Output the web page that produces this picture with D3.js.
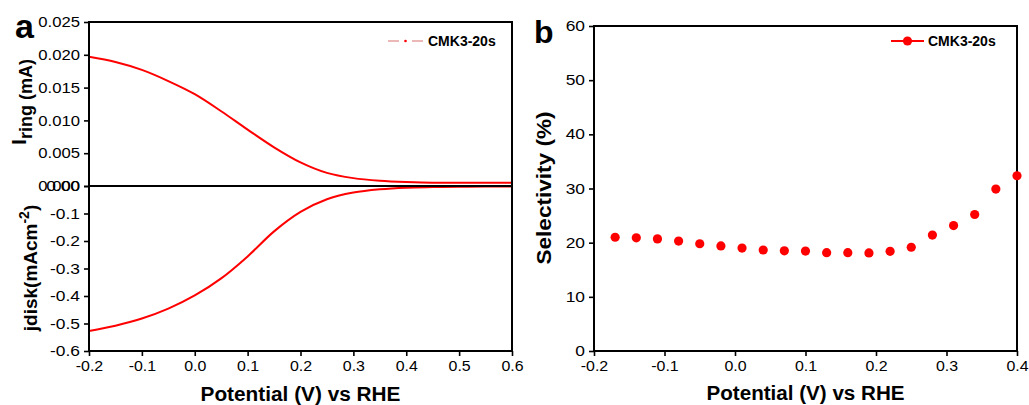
<!DOCTYPE html>
<html>
<head>
<meta charset="utf-8">
<script src="https://cdn.jsdelivr.net/npm/d3@7"></script>
<style>
  body { margin: 0; background: #fff; }
  svg { display: block; font-family: "Liberation Sans", Arial, sans-serif; }
</style>
</head>
<body>
<script>
"use strict";

// data

// panel a: ring / disk currents vs potential
const potA = [-0.2, -0.15, -0.1, -0.05, 0.0, 0.05, 0.1, 0.15, 0.2, 0.25, 0.3, 0.35, 0.4, 0.45, 0.5, 0.55, 0.6];
const ringCurrent = [0.0197, 0.0189, 0.0177, 0.0160, 0.0140, 0.0114, 0.0086, 0.0059, 0.0036, 0.0020, 0.0012, 0.0008, 0.0006, 0.0005, 0.0005, 0.0005, 0.0005];
const diskCurrent = [-0.527, -0.508, -0.482, -0.446, -0.398, -0.336, -0.256, -0.165, -0.094, -0.048, -0.024, -0.012, -0.006, -0.004, -0.003, -0.002, -0.002];

// panel b: selectivity
const potB = [-0.17, -0.14, -0.11, -0.08, -0.05, -0.02, 0.01, 0.04, 0.07, 0.10, 0.13, 0.16, 0.19, 0.22, 0.25, 0.28, 0.31, 0.34, 0.37, 0.40];
const selectivity = [21.0, 20.9, 20.7, 20.3, 19.8, 19.4, 19.0, 18.65, 18.5, 18.45, 18.15, 18.15, 18.1, 18.4, 19.15, 21.4, 23.15, 25.2, 29.9, 32.35];

// ticks
const xTicksA = [-0.2, -0.1, 0.0, 0.1, 0.2, 0.3, 0.4, 0.5, 0.6];
const ringTicks = [0.000, 0.005, 0.010, 0.015, 0.020, 0.025];
const diskTicks = [-0.6, -0.5, -0.4, -0.3, -0.2, -0.1, 0.0];
const xTicksB = [-0.2, -0.1, 0.0, 0.1, 0.2, 0.3, 0.4];
const selTicks = [0, 10, 20, 30, 40, 50, 60];

const seriesName = 'CMK3-20s';
const red = '#ff0000';

const W = 1029, H = 405;

// plain hyphen minus, like the original figure
const fmt = (spec) => {
    const f = d3.format(spec);
    return (d) => f(d).replace('\u2212', '-');
};

const svg = d3.select('body')
    .append('svg')
    .attr('width', W)
    .attr('height', H);

// tick labels in the figure run wide: scale them horizontally
const styleAxis = (g, k, side) => {
    g.select('.domain').remove();
    g.attr('font-size', 14.5).attr('font-family', '"Liberation Sans", Arial, sans-serif');
    g.selectAll('.tick line').attr('stroke', '#000').attr('stroke-width', 1.6);
    g.selectAll('.tick text')
        .attr('fill', '#000')
        .attr('transform', 'scale(' + k + ',1)')
        .attr('x', side === 'left' ? -9 / k : 0);
};

// ---------- panel a ----------
const xa = d3.scaleLinear().domain([-0.2, 0.6]).range([89, 512]);
const ya1 = d3.scaleLinear().domain([0, 0.025]).range([186, 22]);
const ya2 = d3.scaleLinear().domain([-0.6, 0]).range([351, 186]);

const ga = svg.append('g');

ga.append('g')
    .attr('transform', 'translate(0,' + ya2(-0.6) + ')')
    .call(d3.axisBottom(xa).tickValues(xTicksA).tickSize(5).tickPadding(5)
          .tickFormat(fmt('.1f')))
    .call(g => styleAxis(g, 1.1, 'bottom'));

ga.append('g')
    .attr('transform', 'translate(' + xa(-0.2) + ',0)')
    .call(d3.axisLeft(ya1).tickValues(ringTicks).tickSize(5).tickPadding(4)
          .tickFormat(fmt('.3f')))
    .call(g => styleAxis(g, 1.15, 'left'));

ga.append('g')
    .attr('transform', 'translate(' + xa(-0.2) + ',0)')
    .call(d3.axisLeft(ya2).tickValues(diskTicks).tickSize(5).tickPadding(4)
          .tickFormat(d => d === 0 ? '0.00' : fmt('.1f')(d)))
    .call(g => styleAxis(g, 1.2, 'left'));

const lineRing = d3.line()
    .x((d, i) => xa(potA[i]))
    .y(d => ya1(d))
    .curve(d3.curveMonotoneX);
const lineDisk = d3.line()
    .x((d, i) => xa(potA[i]))
    .y(d => ya2(d))
    .curve(d3.curveMonotoneX);

ga.append('path').datum(ringCurrent)
    .attr('d', lineRing)
    .attr('fill', 'none').attr('stroke', red).attr('stroke-width', 2);
ga.append('path').datum(diskCurrent)
    .attr('d', lineDisk)
    .attr('fill', 'none').attr('stroke', red).attr('stroke-width', 2);

// zero line and frame
ga.append('line')
    .attr('x1', xa(-0.2)).attr('x2', xa(0.6))
    .attr('y1', ya1(0)).attr('y2', ya1(0))
    .attr('stroke', '#000').attr('stroke-width', 2);
ga.append('rect')
    .attr('x', xa(-0.2)).attr('y', ya1(0.025))
    .attr('width', xa(0.6) - xa(-0.2))
    .attr('height', ya2(-0.6) - ya1(0.025))
    .attr('fill', 'none').attr('stroke', '#000').attr('stroke-width', 2);

// legend a
ga.append('line')
    .attr('x1', 388).attr('x2', 423).attr('y1', 41).attr('y2', 41)
    .attr('stroke', '#e6a0a0').attr('stroke-width', 1.5)
    .attr('stroke-dasharray', '11,13,11');
ga.append('circle')
    .attr('cx', 405.5).attr('cy', 41).attr('r', 1.3).attr('fill', red);
ga.append('text')
    .attr('x', 428).attr('y', 46)
    .style('font-size', '14px').style('font-weight', 'bold')
    .text(seriesName);

// titles a
ga.append('text')
    .attr('x', xa(0.2)).attr('y', 401)
    .attr('text-anchor', 'middle')
    .style('font-size', '19.5px').style('font-weight', 'bold')
    .attr('textLength', 200).attr('lengthAdjust', 'spacingAndGlyphs')
    .text('Potential (V) vs RHE');

const t1 = ga.append('text')
    .attr('transform', 'translate(26,102) rotate(-90)')
    .attr('text-anchor', 'middle')
    .style('font-weight', 'bold');
t1.append('tspan').style('font-size', '21px').text('I');
t1.append('tspan').style('font-size', '18px').attr('dy', 6).text('ring (mA)');

const t2 = ga.append('text')
    .attr('transform', 'translate(37,268) rotate(-90)')
    .attr('text-anchor', 'middle')
    .style('font-weight', 'bold')
    .style('font-size', '19px');
t2.append('tspan').text('jdisk(mAcm');
t2.append('tspan').attr('dy', -8).style('font-size', '14px').text('-2');
t2.append('tspan').attr('dy', 8).text(')');

ga.append('text')
    .attr('x', 15).attr('y', 38)
    .style('font-size', '34px').style('font-weight', 'bold')
    .text('a');

// ---------- panel b ----------
const xb = d3.scaleLinear().domain([-0.2, 0.4]).range([594, 1017]);
const yb = d3.scaleLinear().domain([0, 60]).range([351, 26]);

const gb = svg.append('g');

gb.append('g')
    .attr('transform', 'translate(0,' + yb(0) + ')')
    .call(d3.axisBottom(xb).tickValues(xTicksB).tickSize(5).tickPadding(5)
          .tickFormat(fmt('.1f')))
    .call(g => styleAxis(g, 1.1, 'bottom'));

gb.append('g')
    .attr('transform', 'translate(' + xb(-0.2) + ',0)')
    .call(d3.axisLeft(yb).tickValues(selTicks).tickSize(5).tickPadding(3))
    .call(g => styleAxis(g, 1.2, 'left'));

gb.append('rect')
    .attr('x', xb(-0.2)).attr('y', yb(60))
    .attr('width', xb(0.4) - xb(-0.2))
    .attr('height', yb(0) - yb(60))
    .attr('fill', 'none').attr('stroke', '#000').attr('stroke-width', 2);

gb.selectAll('circle.pt')
    .data(selectivity)
    .enter()
    .append('circle')
    .attr('class', 'pt')
    .attr('cx', (d, i) => xb(potB[i]))
    .attr('cy', d => yb(d))
    .attr('r', 4.6)
    .attr('fill', red);

// legend b
gb.append('line')
    .attr('x1', 891).attr('x2', 924).attr('y1', 41).attr('y2', 41)
    .attr('stroke', red).attr('stroke-width', 2);
gb.append('circle')
    .attr('cx', 907.5).attr('cy', 41).attr('r', 4.6).attr('fill', red);
gb.append('text')
    .attr('x', 928).attr('y', 46)
    .style('font-size', '14px').style('font-weight', 'bold')
    .text(seriesName);

gb.append('text')
    .attr('x', xb(0.1)).attr('y', 400)
    .attr('text-anchor', 'middle')
    .style('font-size', '19.5px').style('font-weight', 'bold')
    .attr('textLength', 198).attr('lengthAdjust', 'spacingAndGlyphs')
    .text('Potential (V) vs RHE');

gb.append('text')
    .attr('transform', 'translate(551,188) rotate(-90)')
    .attr('text-anchor', 'middle')
    .style('font-size', '20px').style('font-weight', 'bold')
    .attr('textLength', 153).attr('lengthAdjust', 'spacingAndGlyphs')
    .text('Selectivity (%)');

gb.append('text')
    .attr('x', 534).attr('y', 43)
    .style('font-size', '32px').style('font-weight', 'bold')
    .text('b');
</script>
</body>
</html>
